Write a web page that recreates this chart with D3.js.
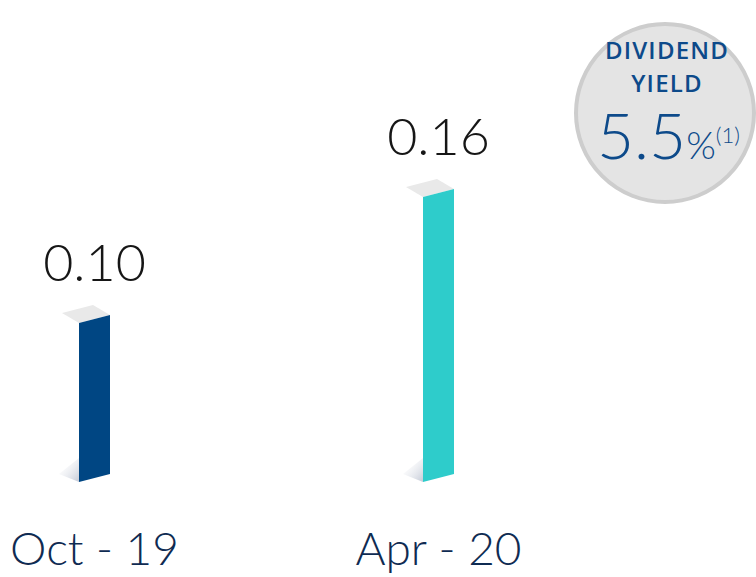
<!DOCTYPE html>
<html><head><meta charset="utf-8">
<script src="https://cdn.jsdelivr.net/npm/d3@7"></script>
<style>html,body{margin:0;padding:0;background:#fff;}</style>
</head><body>
<svg id="chart" width="756" height="577"></svg>
<script>
const categories = ["Oct - 19", "Apr - 20"];
const values = [0.10, 0.16];
const valueLabels = ["0.10", "0.16"];
const barColors = ["#004683", "#2ecccb"];
const yieldTitle = ["DIVIDEND", "YIELD"];
const yieldValue = "5.5";
const yieldUnit = "%";
const yieldNote = "(1)";

const svg = d3.select("#chart");
const defs = svg.append("defs");
const grad = defs.append("linearGradient").attr("id","shadow").attr("x1","1").attr("y1","1").attr("x2","0").attr("y2","0");
grad.append("stop").attr("offset","0%").attr("stop-color","#c3c9d6");
grad.append("stop").attr("offset","100%").attr("stop-color","#ffffff").attr("stop-opacity",0);

const x = d3.scalePoint().domain(categories).range([94.5, 438.5]);
const y = d3.scaleLinear().domain([0.0243, 0.16]).range([482, 197]);
const barW = 31, slope = 8, depthX = 17, depthY = 10;

const g = svg.append("g");
categories.forEach((c, i) => {
  const x0 = x(c) - barW/2, x1 = x0 + barW;
  const yt = y(values[i]), yb = y.range()[0];
  g.append("path").attr("d", `M${x0},${yb-24} L${x0},${yb} L${x0-20},${yb-8} Z`).attr("fill","url(#shadow)");
  g.append("path").attr("d", `M${x0},${yt} L${x0-depthX},${yt-depthY} L${x1-depthX},${yt-depthY-slope} L${x1},${yt-slope} Z`).attr("fill","#e9e9e9");
  g.append("path").attr("d", `M${x0},${yt} L${x1},${yt-slope} L${x1},${yb-slope} L${x0},${yb} Z`).attr("fill", barColors[i]);
  g.append("text").attr("x", x(c)).attr("y", yt-42).attr("text-anchor","middle")
    .attr("font-family","Lato, 'Open Sans', sans-serif").attr("font-weight",300)
    .attr("font-size",52).attr("fill","#161616").text(valueLabels[i]);
  g.append("text").attr("x", x(c)).attr("y", 565).attr("text-anchor","middle")
    .attr("font-family","Lato, 'Open Sans', sans-serif").attr("font-weight",300)
    .attr("font-size",46).attr("fill","#0f2b52").text(c);
});

const b = svg.append("g");
b.append("circle").attr("cx",665).attr("cy",113).attr("r",89).attr("fill","#e4e4e4").attr("stroke","#cdcdcd").attr("stroke-width",4);
const blue = "#0d4a8a";
b.append("text").attr("x",667).attr("y",59).attr("text-anchor","middle").attr("font-family","'Open Sans', sans-serif")
  .attr("font-weight",600).attr("font-size",24).attr("letter-spacing",1.2).attr("fill",blue).text(yieldTitle[0]);
b.append("text").attr("x",667).attr("y",92).attr("text-anchor","middle").attr("font-family","'Open Sans', sans-serif")
  .attr("font-weight",600).attr("font-size",24).attr("letter-spacing",1.2).attr("fill",blue).text(yieldTitle[1]);
const t = b.append("text").attr("x",597).attr("y",159).attr("font-family","Lato, 'Open Sans', sans-serif").attr("fill",blue);
t.append("tspan").attr("font-weight",300).attr("font-size",64).text(yieldValue);
t.append("tspan").attr("font-weight",300).attr("font-size",38).text(yieldUnit);
t.append("tspan").attr("font-weight",300).attr("font-size",22).attr("dy",-16).text(yieldNote);
</script>
</body></html>
